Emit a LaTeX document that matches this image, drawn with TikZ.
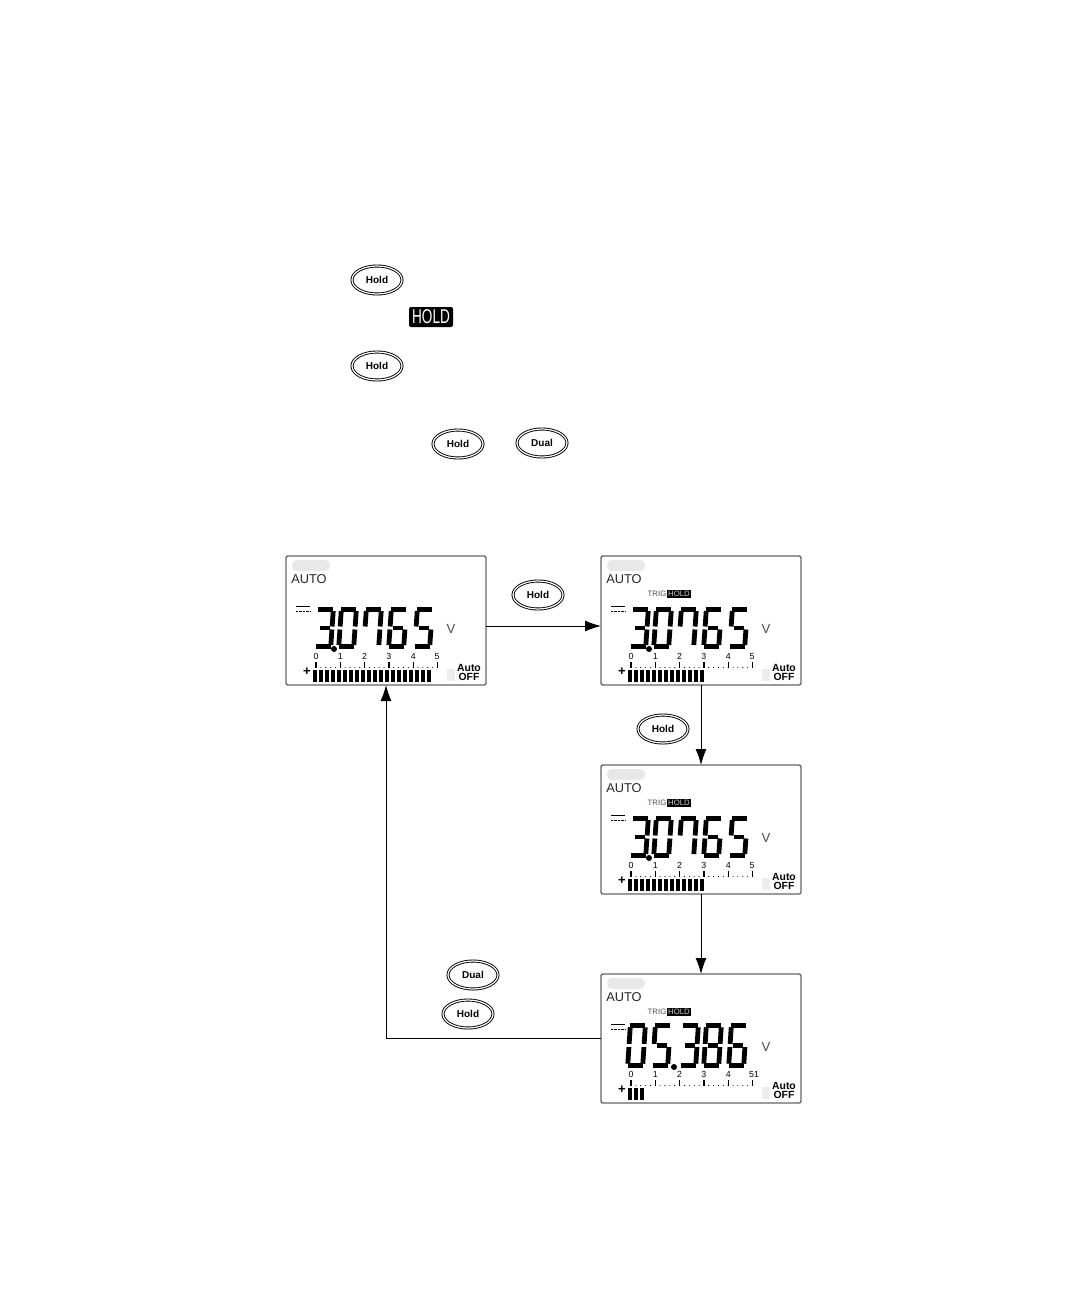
\documentclass[tikz,border=0pt]{standalone}
\usepackage{fontspec}
\setmainfont{Liberation Sans}
\usetikzlibrary{arrows.meta,positioning,shapes.geometric}

% segments of one digit
\newcommand{\sega}{\draw[seg] (2.5,2.2)--(17.5,2.2);}
\newcommand{\segb}{\draw[seg] (17.5,4)--(17.5,19.5);}
\newcommand{\segc}{\draw[seg] (17.5,22.5)--(17.5,38);}
\newcommand{\segd}{\draw[seg] (2.5,39.8)--(17.5,39.8);}
\newcommand{\sege}{\draw[seg] (2.5,22.5)--(2.5,38);}
\newcommand{\segf}{\draw[seg] (2.5,4)--(2.5,19.5);}
\newcommand{\segg}{\draw[seg] (5,21)--(15,21);}
\newcommand{\dzero}{\sega\segb\segc\segd\sege\segf}
\newcommand{\dthree}{\sega\segb\segc\segd\segg}
\newcommand{\dfive}{\sega\segc\segd\segf\segg}
\newcommand{\dsix}{\sega\segc\segd\sege\segf\segg}
\newcommand{\dseven}{\sega\segb\segc\segf}
\newcommand{\deight}{\sega\segb\segc\segd\sege\segf\segg}
\newcommand{\lcddigit}[3]{\begin{scope}[shift={(#1,#2)},xslant=0.07]#3\end{scope}}

% fixed part of a display: name, bars, x of last label, last label
\newcommand{\lcdface}[4]{%
  \node[badge] (#1badge) at (25,9.5) {};
  \node[autotext] (#1auto) at (23,23) {AUTO};
  \draw[dcline] (10,50.5) -- (24,50.5);
  \draw[dcline,dash pattern=on 1.2pt off 0.5pt] (10,55.5) -- (24,55.5);
  \node[volt] (#1volt) at (165,73) {V};
  \foreach \i in {0,...,4} {
    \pgfmathsetmacro{\tx}{30+24.3*\i}
    \node[scalenum] (#1num\i) at (\tx,100.5) {\i};
  }
  \node[scalenum] (#1num5) at (#3,100.5) {#4};
  \foreach \i in {0,...,5} {
    \pgfmathsetmacro{\tx}{30+24.3*\i}
    \draw[scaletick] (\tx,106) -- (\tx,112);
  }
  \foreach \i in {0,...,24} {
    \pgfmathsetmacro{\tx}{30+4.86*\i}
    \fill (\tx,111.5) circle (0.55);
  }
  \node[plus] (#1plus) at (21,116) {+};
  \foreach \i in {1,...,#2} {
    \pgfmathsetmacro{\tx}{21+6*\i}
    \fill (\tx,114) rectangle +(4.4,12);
  }
  \fill[black!7] (161,113) rectangle (169,125);
  \node[offtext] (#1autooff) at (183,112) {Auto};
  \node[offtext] (#1off) at (183,121) {OFF};
}
\newcommand{\trighold}[1]{%
  \node[trigtext] (#1trig) at (56,38) {TRIG};
  \node[holdtag] (#1hold) at (78,38) {HOLD};
}
\newcommand{\firstreading}{%
  \lcddigit{30}{51}{\dthree}
  \lcddigit{53}{51}{\dzero}
  \lcddigit{78}{51}{\dseven}
  \lcddigit{103}{51}{\dsix}
  \lcddigit{129}{51}{\dfive}
  \fill (48,93) circle (3);
}

\begin{document}
\begin{tikzpicture}[
    x=0.5pt, y=-0.5pt,
    node distance=40pt and 57.5pt,
    panel/.style={draw=black!60, line width=0.7pt, rounded corners=1pt, outer sep=0pt, inner sep=0pt, minimum width=100pt, minimum height=64.5pt},
    btn/.style={ellipse, draw, line width=0.45pt, double=white, double distance=0.6pt, inner sep=0pt, minimum width=25pt, minimum height=14pt, font=\fontsize{5}{5}\selectfont\bfseries},
    arrow/.style={-{Latex[length=8pt,width=5.5pt]}, line width=0.5pt},
    seg/.style={line width=2.4pt},
    badge/.style={fill=black!9, rounded corners=2.5pt, inner sep=0pt, minimum width=19pt, minimum height=5.5pt},
    autotext/.style={inner sep=0pt, font=\fontsize{6.4}{7}\selectfont, text=black!85},
    dcline/.style={line width=0.7pt},
    volt/.style={inner sep=0pt, font=\fontsize{6.6}{7}\selectfont, text=black!70},
    scalenum/.style={inner sep=0pt, font=\fontsize{4.4}{5}\selectfont},
    scaletick/.style={line width=0.7pt},
    plus/.style={inner sep=0pt, font=\fontsize{6.5}{7}\selectfont\bfseries},
    offtext/.style={inner sep=0pt, font=\fontsize{5.2}{6}\selectfont\bfseries},
    trigtext/.style={inner sep=0pt, font=\fontsize{3.9}{4}\selectfont, text=black!70},
    holdtag/.style={fill=black, text=white!80!black, inner sep=0pt, minimum width=12pt, minimum height=3.6pt, font=\fontsize{3.9}{4}\selectfont}
]
\useasboundingbox[fill=white] (0,0) rectangle (1080,1296);

% keys in the text
\node[btn] (holdone) at (377,280) {Hold};
\node[fill=black, text=white, rounded corners=1pt, inner sep=0pt, minimum width=22pt, minimum height=10pt, font=\fontsize{10}{10}\selectfont] (holdicon) at (431,317) {\scalebox{0.68}[1]{HOLD}};
\node[btn] (holdtwo) at (377,366) {Hold};
\node[btn] (holdthree) at (458,444) {Hold};
\node[btn] (dualone) at (542,443) {Dual};

% displays
\node[panel] (first) at (386,620.5) {};
\node[panel, right=of first] (second) {};
\node[panel, below=of second] (third) {};
\node[panel, below=of third] (fourth) {};

\begin{scope}[shift={(first.north west)}]
  \lcdface{a}{20}{151}{5}
  \firstreading
\end{scope}
\begin{scope}[shift={(second.north west)}]
  \lcdface{b}{13}{151}{5}
  \trighold{b}
  \firstreading
\end{scope}
\begin{scope}[shift={(third.north west)}]
  \lcdface{c}{13}{151}{5}
  \trighold{c}
  \firstreading
\end{scope}
\begin{scope}[shift={(fourth.north west)}]
  \lcdface{d}{3}{153}{51}
  \trighold{d}
  \begin{scope}[yscale=1.07]
    \lcddigit{27}{45.8}{\dzero}
    \lcddigit{52}{45.8}{\dfive}
    \lcddigit{80}{45.8}{\dthree}
    \lcddigit{103}{45.8}{\deight}
    \lcddigit{128}{45.8}{\dsix}
  \end{scope}
  \fill (73,93) circle (3);
\end{scope}

% keys at the arrows
\node[btn] (holdfour) at (538,595) {Hold};
\node[btn] (holdfive) at (663,729) {Hold};
\node[btn] (dualtwo) at (473,975) {Dual};
\node[btn] (holdsix) at (468,1014) {Hold};

\draw[arrow] ([yshift=-2.75pt]first.east) -- ([yshift=-2.75pt]second.west);
\draw[arrow] (second) -- (third);
\draw[arrow] (third) -- (fourth);
\draw[arrow] (fourth.west) -| (first.south);
\end{tikzpicture}
\end{document}
